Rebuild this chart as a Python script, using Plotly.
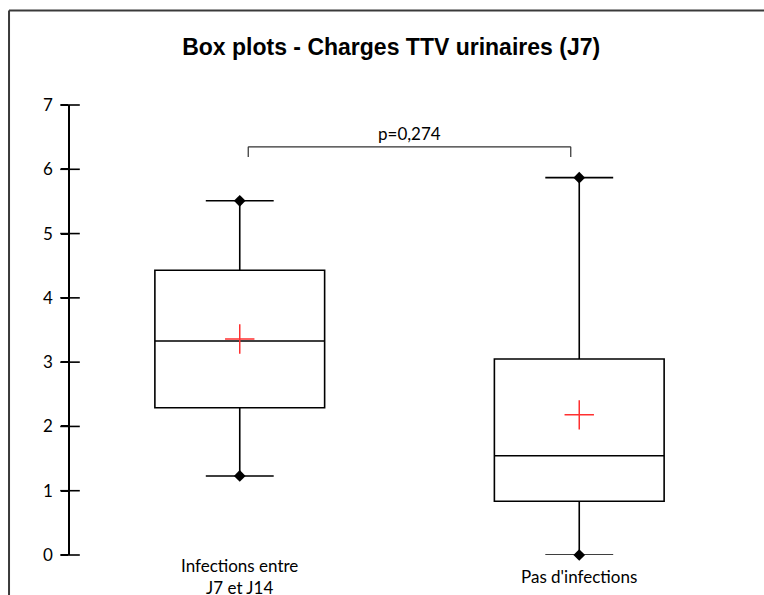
import plotly.graph_objects as go

# ---- data ----
categories = ["Infections entre<br>J7 et J14", "Pas d'infections"]
minimum = [1.23, 0.0]
q1 = [2.29, 0.835]
median = [3.33, 1.545]
q3 = [4.43, 3.05]
maximum = [5.51, 5.87]
mean = [3.36, 2.18]
y_ticks = [0, 1, 2, 3, 4, 5, 6, 7]
p_value_text = "p=0,274"
title_text = "<b>Box plots - Charges TTV urinaires (J7)</b>"

LABEL_FONT = dict(family="Lato, Open Sans, sans-serif", size=17, color="black")

x_pos = list(range(len(categories)))
x_range = [-0.5, len(categories) - 0.5]

fig = go.Figure()

fig.add_trace(go.Box(
    x=x_pos, q1=q1, median=median, q3=q3,
    lowerfence=minimum, upperfence=maximum,
    boxpoints=False, width=0.5, whiskerwidth=0.4,
    fillcolor="white", line=dict(color="black", width=1.6),
    hoverinfo="skip", showlegend=False,
))

# whisker end diamonds
fig.add_trace(go.Scatter(
    x=x_pos + x_pos, y=minimum + maximum, mode="markers",
    marker=dict(symbol="diamond", size=9, color="black"),
    cliponaxis=False, hoverinfo="skip", showlegend=False,
))

# mean crosses
fig.add_trace(go.Scatter(
    x=x_pos, y=mean, mode="markers",
    marker=dict(symbol="cross-thin", size=21, color="#ff3030",
                line=dict(color="#ff3030", width=1.5)),
    hoverinfo="skip", showlegend=False,
))

# cross-style tick marks centred on the y axis line
fig.add_trace(go.Scatter(
    x=[x_range[0]] * len(y_ticks), y=y_ticks, mode="markers",
    marker=dict(symbol="line-ew", size=14, color="black",
                line=dict(color="black", width=1.6)),
    cliponaxis=False, hoverinfo="skip", showlegend=False,
))

# significance bracket
bx0, bx1, by_top, by_leg = 0.025, 0.975, 6.35, 6.19
bracket = dict(type="line", xref="x", yref="y",
               line=dict(color="#303030", width=1.2))
fig.add_shape(**bracket, x0=bx0, x1=bx0, y0=by_leg, y1=by_top)
fig.add_shape(**bracket, x0=bx0, x1=bx1, y0=by_top, y1=by_top)
fig.add_shape(**bracket, x0=bx1, x1=bx1, y0=by_top, y1=by_leg)
fig.add_annotation(x=0.5, y=6.56, xref="x", yref="y", text=p_value_text,
                   showarrow=False, font=LABEL_FONT, yanchor="middle")

# chart frame (left and top edges)
frame = dict(type="line", xref="paper", yref="paper",
             line=dict(color="#3a3a3a", width=2))
fig.add_shape(**frame, x0=-0.0898, x1=-0.0898, y0=-0.2, y1=1.21)
fig.add_shape(**frame, x0=-0.0898, x1=1.03, y0=1.21, y1=1.21)

# category labels
for i, c in zip(x_pos, categories):
    fig.add_annotation(x=i, y=0, xref="x", yref="paper", text=c,
                       showarrow=False, font=LABEL_FONT,
                       yanchor="middle", yshift=-21)

fig.update_layout(
    width=764, height=595,
    margin=dict(l=70, r=15, t=105, b=40),
    paper_bgcolor="white", plot_bgcolor="white",
    title=dict(text=title_text, x=0.512, xref="container", xanchor="center",
               y=1 - 47 / 595, yanchor="middle",
               font=dict(family="Liberation Sans, Arial, sans-serif", size=23,
                         color="black")),
    xaxis=dict(range=x_range, showticklabels=False,
               showline=False, ticks="", showgrid=False, zeroline=False),
    yaxis=dict(range=[0, 7], tickvals=y_ticks, ticks="outside", ticklen=7,
               tickwidth=1.6, tickcolor="black", showline=True,
               linecolor="black", linewidth=1.6, showgrid=False,
               zeroline=False, tickfont=LABEL_FONT, ticklabelstandoff=5),
    showlegend=False,
)

fig.write_html(
    "out.html",
    config={"displayModeBar": False},
    post_script="document.body.style.margin='0';"
                "document.body.style.overflow='hidden';",
)
